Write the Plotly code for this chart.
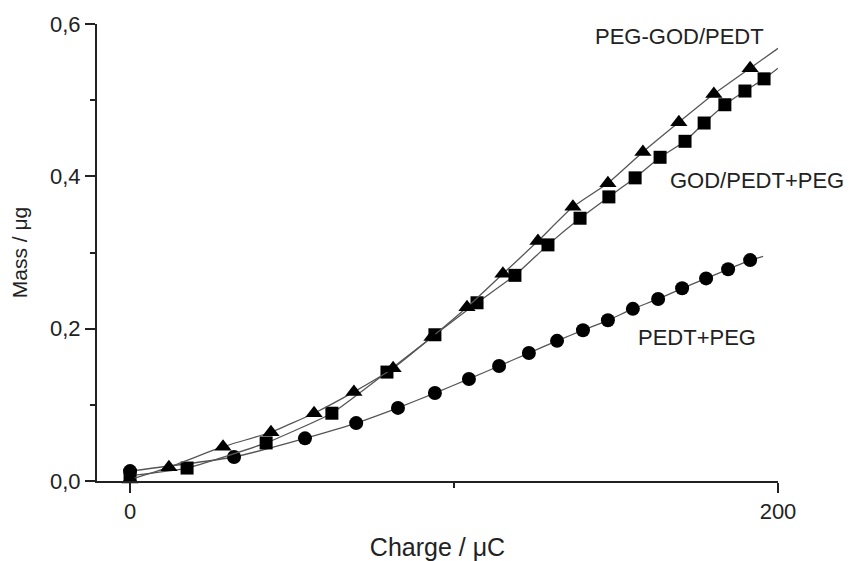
import plotly.graph_objects as go

# PEDT+PEG (circles)
circ_x = [0, 32.1, 54.0, 69.8, 82.7, 94.1, 104.6, 113.9, 123.1, 131.8, 139.8, 147.5, 155.2, 163.0, 170.4, 177.8, 184.6, 191.4]
circ_y = [0.013, 0.0315, 0.056, 0.076, 0.096, 0.1155, 0.134, 0.151, 0.168, 0.184, 0.198, 0.211, 0.226, 0.239, 0.253, 0.266, 0.278, 0.290]
circ_end = (195.4, 0.295)

# PEG-GOD/PEDT (triangles)
tri_x = [0, 12.0, 28.7, 43.5, 56.8, 69.1, 81.2, 93.2, 104.0, 115.1, 125.9, 136.7, 147.5, 158.3, 169.4, 180.2, 191.4]
tri_y = [0.002, 0.018, 0.045, 0.064, 0.089, 0.117, 0.148, 0.189, 0.228, 0.272, 0.315, 0.360, 0.391, 0.432, 0.471, 0.508, 0.542]
tri_end = (200.0, 0.568)

# GOD/PEDT+PEG (squares)
sq_x = [0, 17.6, 42.0, 62.3, 79.3, 94.1, 107.1, 118.8, 129.0, 138.9, 147.8, 155.9, 163.6, 171.3, 177.2, 183.6, 189.8, 195.7]
sq_y = [0.007, 0.017, 0.050, 0.089, 0.143, 0.192, 0.234, 0.270, 0.310, 0.345, 0.373, 0.398, 0.425, 0.446, 0.470, 0.494, 0.512, 0.528]
sq_end = (200.0, 0.542)

y_ticks = [0.0, 0.2, 0.4, 0.6]
y_ticktext = ["0,0", "0,2", "0,4", "0,6"]
x_ticks = [0, 200]
x_ticktext = ["0", "200"]

labels = ["PEG-GOD/PEDT", "GOD/PEDT+PEG", "PEDT+PEG"]
label_pos = [(142.9, 0.583), (166.0, 0.395), (156.2, 0.188)]

LINE = "#555555"
FONT = "Liberation Sans, Arial, sans-serif"
INK = "#222222"

fig = go.Figure()
series = [
    (circ_x, circ_y, circ_end, "circle", 14),
    (sq_x, sq_y, sq_end, "square", 13),
    (tri_x, tri_y, tri_end, "triangle-up", 15),
]
for xs, ys, end, sym, sz in series:
    fig.add_trace(go.Scatter(x=xs + [end[0]], y=ys + [end[1]], mode="lines",
                             line=dict(color=LINE, width=1.3, shape="spline", smoothing=0.4),
                             hoverinfo="skip", showlegend=False))
    fig.add_trace(go.Scatter(x=xs, y=ys, mode="markers",
                             marker=dict(symbol=sym, size=sz, color="black",
                                         line=dict(width=0)),
                             showlegend=False, cliponaxis=False))

for txt, (ax, ay) in zip(labels, label_pos):
    fig.add_annotation(x=ax, y=ay, text=txt, showarrow=False, xanchor="left",
                       font=dict(family=FONT, size=22, color=INK))

# page body has an 8px margin: figure is shifted by 8px right and down
fig.update_layout(
    width=846, height=553,
    margin=dict(l=89, r=76, t=16, b=80),
    paper_bgcolor="white", plot_bgcolor="white",
    font=dict(family=FONT, color=INK),
    showlegend=False,
)
fig.update_xaxes(
    range=[-10.2, 200], showgrid=False, zeroline=False, automargin=False,
    showline=True, linecolor=INK, linewidth=2,
    tickmode="array", tickvals=x_ticks, ticktext=x_ticktext,
    ticks="outside", ticklen=10, tickwidth=2, tickcolor=INK,
    tickfont=dict(size=22, family=FONT, color=INK),
    minor=dict(tickmode="array", tickvals=[100], ticks="outside", ticklen=5,
               tickwidth=2, tickcolor=INK),
    title=dict(text="Charge / μC", font=dict(size=25, family=FONT, color=INK), standoff=16),
)
fig.update_yaxes(
    range=[0, 0.6], showgrid=False, zeroline=False, automargin=False,
    showline=True, linecolor=INK, linewidth=2,
    tickmode="array", tickvals=y_ticks, ticktext=y_ticktext,
    ticks="outside", ticklen=10, tickwidth=2, tickcolor=INK,
    tickfont=dict(size=22, family=FONT, color=INK),
    minor=dict(tickmode="array", tickvals=[0.1, 0.3, 0.5], ticks="outside", ticklen=5,
               tickwidth=2, tickcolor=INK),
    title=dict(text="Mass / μg", font=dict(size=21, family=FONT, color=INK), standoff=18),
)

fig.write_html("out.html")
